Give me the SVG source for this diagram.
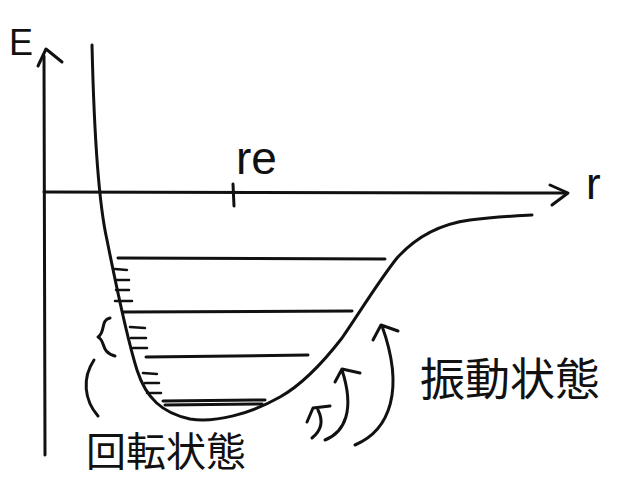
<svg xmlns="http://www.w3.org/2000/svg" width="639" height="489" viewBox="0 0 639 489">
<style>
.s{fill:none;stroke:#111;stroke-width:3;stroke-linecap:round;stroke-linejoin:round}
.t{stroke-width:2.5}
.lab{font-family:"Liberation Sans",Arial,sans-serif;fill:#111}
.jp{font-family:"Noto Sans CJK JP","Noto Sans CJK SC",sans-serif;fill:#111}
</style>
<rect width="639" height="489" fill="#fff"/>
<g id="axes">
<path class="s" d="M44,56 L45,455"/>
<path class="s" d="M38,66 L46,49 L62,62"/>
<path class="s" d="M44,192 L566,193"/>
<path class="s" d="M550,185 L568,193 L552,205"/>
<path class="s" d="M233,184 L234,206"/>
</g>
<g id="curve">
<path class="s" d="M92,45 C94,130 98,200 107,240 C116,285 126,335 137,370 C146,398 162,413 190,419 C215,423 250,414 280,397 C305,383 325,360 342,338 C360,312 378,282 397,258 C415,238 440,224 470,220 C495,217 515,216 532,215"/>
</g>
<g id="vib-levels">
<path class="s" d="M118,258 L385,259"/>
<path class="s" d="M123,312 L352,311"/>
<path class="s" d="M146,357 L308,355"/>
<path class="s" d="M163,401 L265,400"/>
<path class="s" d="M165,405 L262,404"/>
</g>
<g id="rot-levels">
<path class="s t" d="M115,269 L127,270 M116,280 L129,280 M116,290 L129,290 M115,301 L132,301"/>
<path class="s t" d="M130,327 L145,328 M131,338 L146,338 M133,348 L147,348"/>
<path class="s t" d="M143,373 L157,374 M145,383 L159,383 M147,393 L161,393"/>
</g>
<g id="annotations">
<path class="s" d="M110,318 C100,320 106,332 98,337 C106,341 100,352 115,356"/>
<path class="s" d="M94,360 C82,378 84,400 98,416"/>
<path class="s" d="M307,422 L313,408 L330,406 M312,438 C322,430 323,420 318,410"/>
<path class="s" d="M325,440 C345,432 355,410 342,370 M335,382 L342,369 L360,373"/>
<path class="s" d="M355,445 C390,430 405,390 382,326 M373,340 L381,325 L398,331"/>
</g>
<g id="labels">
<text class="lab" x="9" y="55" font-size="36">E</text>
<text class="lab" x="236" y="174" font-size="46">re</text>
<text class="lab" x="586" y="199" font-size="44">r</text>
<text class="jp" x="86" y="466" font-size="40">回転状態</text>
<text class="jp" x="420" y="396" font-size="45">振動状態</text>
</g>
</svg>
